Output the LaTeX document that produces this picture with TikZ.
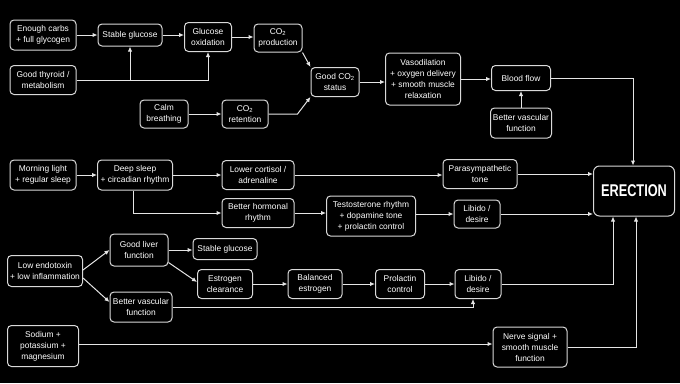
\documentclass[tikz,border=0pt]{standalone}
\usepackage{fontspec}
\setmainfont{Liberation Sans}
\usepackage{graphicx}
\usetikzlibrary{arrows.meta, positioning}

\begin{document}
\begin{tikzpicture}[x=1pt, y=-1pt, >={Latex[length=5pt,width=4.5pt]},
  font=\fontsize{8.4}{11}\selectfont, line width=1pt,
  box/.style={draw=white!85!black, text=white, rounded corners=4pt, align=center,
    inner xsep=2pt, inner ysep=3pt, minimum height=22pt},
  link/.style={draw=white!90!black, ->}]
  % Background
  \fill[black] (0,0) rectangle (680,383);

  % Glucose and CO2 branch
  \node[box, minimum width=66pt, minimum height=30pt] (carbs) at (43,35) {Enough carbs\\+ full glycogen};
  \node[box, minimum width=64pt] (sglu) at (130,35) {Stable glucose};
  \node[box, minimum width=47pt, minimum height=29pt] (gox) at (208,37) {Glucose\\oxidation};
  \node[box, minimum width=48pt, minimum height=28pt] (co2p) at (278,38) {CO\textsubscript{2}\\production};
  \node[box, minimum width=66pt, minimum height=29pt] (thyr) at (43,80) {Good thyroid /\\metabolism};
  \node[box, minimum width=48pt, minimum height=28pt] (calm) at (164,114) {Calm\\breathing};
  \node[box, minimum width=46pt, minimum height=28pt] (co2r) at (245,114) {CO\textsubscript{2}\\retention};
  \node[box, minimum width=48pt, minimum height=29pt] (co2s) at (335,82) {Good CO\textsubscript{2}\\status};
  \node[box, minimum width=75pt, minimum height=52pt] (vaso) at (423,79) {Vasodilation\\+ oxygen delivery\\+ smooth muscle\\relaxation};
  \node[box, minimum width=59pt, minimum height=25pt] (bflow) at (521,78) {Blood flow};
  \node[box, minimum width=61pt, minimum height=30pt] (bvasc) at (521,123) {Better vascular\\function};

  % Sleep branch
  \node[box, minimum width=66pt, minimum height=30pt] (light) at (43,175) {Morning light\\+ regular sleep};
  \node[box, minimum width=75pt, minimum height=30pt] (deep) at (135,175) {Deep sleep\\+ circadian rhythm};
  \node[box, minimum width=72pt, minimum height=29pt] (cort) at (258,175) {Lower cortisol /\\adrenaline};
  \node[box, minimum width=74pt, minimum height=29pt] (para) at (480,174) {Parasympathetic\\tone};
  \node[box, minimum width=72pt, minimum height=29pt] (horm) at (258,213) {Better hormonal\\rhythm};
  \node[box, minimum width=89pt, minimum height=40pt] (testo) at (371,216) {Testosterone rhythm\\+ dopamine tone\\+ prolactin control};
  \node[box, minimum width=46pt, minimum height=28pt] (libA) at (477,214) {Libido /\\desire};

  % Target
  \node[box, minimum width=81pt, minimum height=50pt, rounded corners=6pt] (erec) at (634,191)
    {\scalebox{0.75}[1]{\bfseries\fontsize{17}{17}\selectfont ERECTION}};

  % Liver / inflammation branch
  \node[box, minimum width=75pt, minimum height=31pt] (endo) at (45,271) {Low endotoxin\\+ low inflammation};
  \node[box, minimum width=58pt, minimum height=32pt] (liver) at (139,250) {Good liver\\function};
  \node[box, minimum width=64pt, minimum height=21pt] (sgluB) at (225,249) {Stable glucose};
  \node[box, minimum width=55pt, minimum height=29pt] (estc) at (225,284) {Estrogen\\clearance};
  \node[box, minimum width=54pt, minimum height=29pt] (bal) at (315,284) {Balanced\\estrogen};
  \node[box, minimum width=49pt, minimum height=29pt] (prol) at (400,284) {Prolactin\\control};
  \node[box, minimum width=46pt, minimum height=29pt] (libB) at (478,284) {Libido /\\desire};
  \node[box, minimum width=62pt, minimum height=30pt] (bvascB) at (141,307) {Better vascular\\function};

  % Minerals branch
  \node[box, minimum width=71pt, minimum height=41pt] (sod) at (43,346) {Sodium +\\potassium +\\magnesium};
  \node[box, minimum width=74pt, minimum height=40pt] (nerve) at (530,347) {Nerve signal +\\smooth muscle\\function};

  % Connectors, top
  \draw[link] (carbs) -- (sglu);
  \draw[link] (sglu) -- (sglu -| gox.west);
  \draw[link] (gox) -- (gox -| co2p.west);
  \draw[link] (thyr.east) -| (sglu.south);
  \draw[link] (thyr.east) -| (gox.south);
  \draw[link] (co2p.south east) -- (co2s.north west);
  \draw[link] (calm) -- (co2r);
  \draw[link] (co2r.east) -- ++(29,0) -- (co2s.south west);
  \draw[link] (co2s) -- (co2s -| vaso.west);
  \draw[link] (vaso) -- (vaso -| bflow.west);
  \draw[link] (bvasc) -- (bflow);
  \draw[link] (bflow.east) -| ([xshift=-1pt]erec.north);

  % Connectors, sleep
  \draw[link] (light) -- (deep);
  \draw[link] (deep) -- (deep -| cort.west);
  \draw[link] (cort) -- (cort -| para.west);
  \draw[link] ([xshift=-2pt]deep.south) |- (horm.west);
  \draw[link] (horm) -- (horm -| testo.west);
  \draw[link] (libA -| testo.east) -- (libA);
  \draw[link] (para) -- (para -| erec.west);
  \draw[link] (libA) -- (libA -| erec.west);

  % Connectors, liver
  \draw[link] ([yshift=1pt]endo.east) -- (liver.west);
  \draw[link] ([yshift=-7pt]endo.east) -- ([yshift=5pt]bvascB.west);
  \draw[link] (liver) -- (liver -| sgluB.west);
  \draw[link] ([yshift=4pt]liver.south east) -- ([yshift=2pt]estc.west);
  \draw[link] (estc) -- (bal);
  \draw[link] (bal) -- (prol);
  \draw[link] (prol) -- (libB);
  \draw[link] (bvascB.east) -| ([xshift=-5pt]libB.south);
  \draw[link] (libB.east) -| ([xshift=-21pt]erec.south);

  % Connectors, minerals
  \draw[link] ([yshift=2pt]sod.east) -- ([yshift=2pt]sod.east -| nerve.west);
  \draw[link] (nerve.east) -| ([xshift=2pt]erec.south);
\end{tikzpicture}
\end{document}
